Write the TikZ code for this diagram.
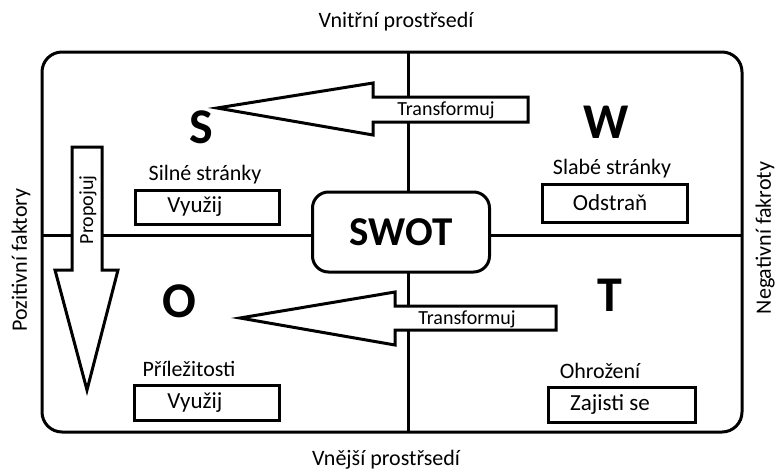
\documentclass[tikz,border=0pt]{standalone}
\usepackage{fontspec}
\setmainfont{Carlito}
\begin{document}
\begin{tikzpicture}[x=1pt,y=-1pt,
  thick line/.style={line width=3pt},
  lbl/.style={font=\fontsize{22}{24}\selectfont, inner sep=0pt},
  trf/.style={font=\fontsize{20}{22}\selectfont, inner sep=0pt},
  big/.style={font=\fontsize{50}{52}\selectfont\bfseries, inner sep=0pt, text height=0.64em, text depth=0pt},
  actbox/.style={draw, line width=3pt, fill=white, minimum width=143pt, minimum height=34pt, inner sep=0pt, font=\fontsize{23}{25}\selectfont},
  arr/.style={draw, line width=3pt, fill=white, line join=miter}]
\useasboundingbox (0,0) rectangle (781,471);
% outer frame
\draw[thick line, rounded corners=20pt] (42,52) rectangle (742,432);
\coordinate (vt) at (408,52);
\coordinate (vb) at (408,432);
\coordinate (hl) at (42,235);
\coordinate (hr) at (742,235);
\draw[thick line] (vt) -- (vb);
\draw[thick line] (hl) -- (hr);
% transform arrows
\draw[arr] (217,108) -- (373,83) -- (373,97) -- (528,97) -- (528,122) -- (373,122) -- (373,135) -- cycle;
\node[trf] (tr1) at (446,110) {Transformuj};
\draw[arr] (240,318) -- (395,292) -- (395,306) -- (556,306) -- (556,330) -- (395,330) -- (395,345) -- cycle;
\node[trf] (tr2) at (467,319) {Transformuj};
% propojuj arrow
\draw[arr] (72,147) -- (102,147) -- (102,270) -- (118,270) -- (87,390) -- (55,270) -- (72,270) -- cycle;
\node[trf, rotate=90] (prop) at (88,210) {Propojuj};
% SWOT box
\node[draw, line width=3pt, fill=white, rounded corners=16pt, minimum width=177pt, minimum height=80pt, inner sep=0pt,
      font=\fontsize{41}{43}\selectfont\bfseries] (swot) at (401,232) {SWOT};
% letters
\node[big] (S) at (201,140) {S};
\node[big] (W) at (606,135) {W};
\node[big] (O) at (179,314) {O};
\node[big] (T) at (610,308) {T};
% labels
\node[lbl] (sl) at (205,175) {Silné stránky};
\node[lbl] (wl) at (612,169) {Slabé stránky};
\node[lbl] (ol) at (189,369) {Příležitosti};
\node[lbl] (tl) at (600,371) {Ohrožení};
% boxes
\node[actbox, minimum width=144pt] (sb) at (207,207) {Využij\hspace*{24pt}};
\node[actbox, minimum width=145pt, minimum height=38pt] (wb) at (615,203) {Odstraň\hspace*{10pt}};
\node[actbox, minimum width=145pt, minimum height=35pt] (ob) at (207,403) {Využij\hspace*{24pt}};
\node[actbox, minimum width=147pt, minimum height=35pt] (tb) at (622,405) {Zajisti se\hspace*{24pt}};
% outer labels
\node[lbl] (top) at (396,22) {Vnitřní prostřsedí};
\node[lbl] (bot) at (386,460) {Vnější prostřsedí};
\node[lbl, rotate=90] (left) at (21,260) {Pozitivní faktory};
\node[lbl, rotate=90] (right) at (765,238) {Negativní fakroty};
\end{tikzpicture}
\end{document}
